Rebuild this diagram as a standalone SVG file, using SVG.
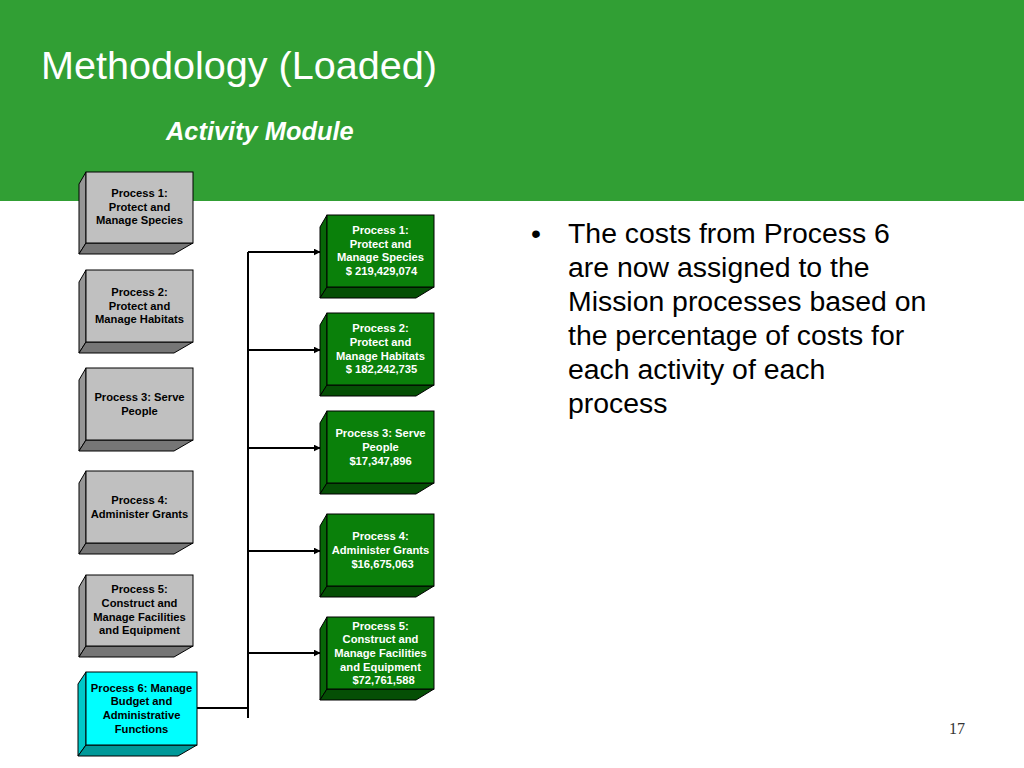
<svg xmlns="http://www.w3.org/2000/svg" width="1024" height="768" viewBox="0 0 1024 768">
<defs>
<style>
.gf{fill:#c0c0c0;stroke:#000;stroke-width:1}
.gl{fill:#969696;stroke:#000;stroke-width:1}
.gb{fill:#767676;stroke:#000;stroke-width:1}
.nf{fill:#0a800a;stroke:#000;stroke-width:1}
.nl{fill:#076607;stroke:#000;stroke-width:1}
.nb{fill:#054f05;stroke:#000;stroke-width:1}
.cf{fill:#00ffff;stroke:#000;stroke-width:1}
.cl{fill:#00c8c8;stroke:#000;stroke-width:1}
.cb{fill:#009999;stroke:#000;stroke-width:1}
.t{font-family:"Liberation Sans",Arial,sans-serif;font-weight:bold;font-size:11.2px;text-anchor:middle;fill:#000}
.w{fill:#fff}
.ln{stroke:#000;stroke-width:2;fill:none}
.bt{font-family:"Liberation Sans",Arial,sans-serif;font-size:28.4px;fill:#000}
</style>
<marker id="ah" viewBox="0 0 10 10" refX="9" refY="5" markerWidth="3.5" markerHeight="3.5" orient="auto" markerUnits="strokeWidth">
<path d="M0,0 L10,5 L0,10 z" fill="#000"/>
</marker>
</defs>
<rect x="0" y="0" width="1024" height="768" fill="#fff"/>
<rect x="0" y="0" width="1024" height="201" fill="#319f34"/>
<text x="41" y="79" font-family="'Liberation Sans',Arial,sans-serif" font-size="39.6" fill="#fff">Methodology (Loaded)</text>
<text x="166" y="140" font-family="'Liberation Sans',Arial,sans-serif" font-size="25.4" font-weight="bold" font-style="italic" fill="#fff">Activity Module</text>

<g id="connectors">
<path class="ln" d="M248,252 V718"/>
<path class="ln" d="M197,708 H248"/>
<path class="ln" d="M248,252 H320" marker-end="url(#ah)"/>
<path class="ln" d="M248,350 H320" marker-end="url(#ah)"/>
<path class="ln" d="M248,448 H320" marker-end="url(#ah)"/>
<path class="ln" d="M248,551 H320" marker-end="url(#ah)"/>
<path class="ln" d="M248,653 H320" marker-end="url(#ah)"/>
</g>

<g id="l1">
<polygon class="gl" points="86,172 79,184 79,254 86,243"/>
<polygon class="gb" points="86,243 193,243 174,254 79,254"/>
<rect class="gf" x="86" y="172" width="107" height="71"/>
<text class="t" x="139.5" y="197">Process 1:</text>
<text class="t" x="139.5" y="211">Protect and</text>
<text class="t" x="139.5" y="224">Manage Species</text>
</g>
<g id="l2">
<polygon class="gl" points="86,270 79,282 79,353 86,342"/>
<polygon class="gb" points="86,342 193,342 174,353 79,353"/>
<rect class="gf" x="86" y="270" width="107" height="72"/>
<text class="t" x="139.5" y="296">Process 2:</text>
<text class="t" x="139.5" y="310">Protect and</text>
<text class="t" x="139.5" y="323">Manage Habitats</text>
</g>
<g id="l3">
<polygon class="gl" points="86,368 79,380 79,451 86,440"/>
<polygon class="gb" points="86,440 193,440 174,451 79,451"/>
<rect class="gf" x="86" y="368" width="107" height="72"/>
<text class="t" x="139.5" y="401">Process 3: Serve</text>
<text class="t" x="139.5" y="415">People</text>
</g>
<g id="l4">
<polygon class="gl" points="86,471 79,483 79,554 86,543"/>
<polygon class="gb" points="86,543 193,543 174,554 79,554"/>
<rect class="gf" x="86" y="471" width="107" height="72"/>
<text class="t" x="139.5" y="504">Process 4:</text>
<text class="t" x="139.5" y="518">Administer Grants</text>
</g>
<g id="l5">
<polygon class="gl" points="86,575 79,587 79,657 86,646"/>
<polygon class="gb" points="86,646 193,646 174,657 79,657"/>
<rect class="gf" x="86" y="575" width="107" height="71"/>
<text class="t" x="139.5" y="593">Process 5:</text>
<text class="t" x="139.5" y="607">Construct and</text>
<text class="t" x="139.5" y="621">Manage Facilities</text>
<text class="t" x="139.5" y="634">and Equipment</text>
</g>
<g id="l6">
<polygon class="cl" points="86,672 78,684 78,756 86,745"/>
<polygon class="cb" points="86,745 197,745 178,756 78,756"/>
<rect class="cf" x="86" y="672" width="111" height="73"/>
<text class="t" x="141.5" y="692">Process 6: Manage</text>
<text class="t" x="141.5" y="705">Budget and</text>
<text class="t" x="141.5" y="719">Administrative</text>
<text class="t" x="141.5" y="733">Functions</text>
</g>

<g id="r1">
<polygon class="nl" points="327,215 320,227 320,298 327,287"/>
<polygon class="nb" points="327,287 434,287 416,298 320,298"/>
<rect class="nf" x="327" y="215" width="107" height="72"/>
<text class="t w" x="380.5" y="234">Process 1:</text>
<text class="t w" x="380.5" y="248">Protect and</text>
<text class="t w" x="380.5" y="261">Manage Species</text>
<text class="t w" x="381.5" y="275">$ 219,429,074</text>
</g>
<g id="r2">
<polygon class="nl" points="327,313 320,325 320,396 327,385"/>
<polygon class="nb" points="327,385 434,385 416,396 320,396"/>
<rect class="nf" x="327" y="313" width="107" height="72"/>
<text class="t w" x="380.5" y="332">Process 2:</text>
<text class="t w" x="380.5" y="346">Protect and</text>
<text class="t w" x="380.5" y="360">Manage Habitats</text>
<text class="t w" x="381.5" y="373">$ 182,242,735</text>
</g>
<g id="r3">
<polygon class="nl" points="327,411 320,423 320,494 327,483"/>
<polygon class="nb" points="327,483 434,483 416,494 320,494"/>
<rect class="nf" x="327" y="411" width="107" height="72"/>
<text class="t w" x="380.5" y="437">Process 3: Serve</text>
<text class="t w" x="380.5" y="451">People</text>
<text class="t w" x="380.5" y="465">$17,347,896</text>
</g>
<g id="r4">
<polygon class="nl" points="327,514 320,526 320,597 327,586"/>
<polygon class="nb" points="327,586 434,586 416,597 320,597"/>
<rect class="nf" x="327" y="514" width="107" height="72"/>
<text class="t w" x="380.5" y="540">Process 4:</text>
<text class="t w" x="380.5" y="554">Administer Grants</text>
<text class="t w" x="382.5" y="568">$16,675,063</text>
</g>
<g id="r5">
<polygon class="nl" points="327,617 320,629 320,700 327,689"/>
<polygon class="nb" points="327,689 434,689 416,700 320,700"/>
<rect class="nf" x="327" y="617" width="107" height="72"/>
<text class="t w" x="380.5" y="630">Process 5:</text>
<text class="t w" x="380.5" y="643">Construct and</text>
<text class="t w" x="380.5" y="657">Manage Facilities</text>
<text class="t w" x="380.5" y="671">and Equipment</text>
<text class="t w" x="383.5" y="684">$72,761,588</text>
</g>

<g id="bullet">
<text class="bt" x="531" y="243">•</text>
<text class="bt" x="568" y="243">The costs from Process 6</text>
<text class="bt" x="568" y="277">are now assigned to the</text>
<text class="bt" x="568" y="311">Mission processes based on</text>
<text class="bt" x="568" y="345">the percentage of costs for</text>
<text class="bt" x="568" y="379">each activity of each</text>
<text class="bt" x="568" y="413">process</text>
</g>
<text x="949" y="734" font-family="'Liberation Serif','Times New Roman',serif" font-size="16" fill="#333">17</text>
</svg>
